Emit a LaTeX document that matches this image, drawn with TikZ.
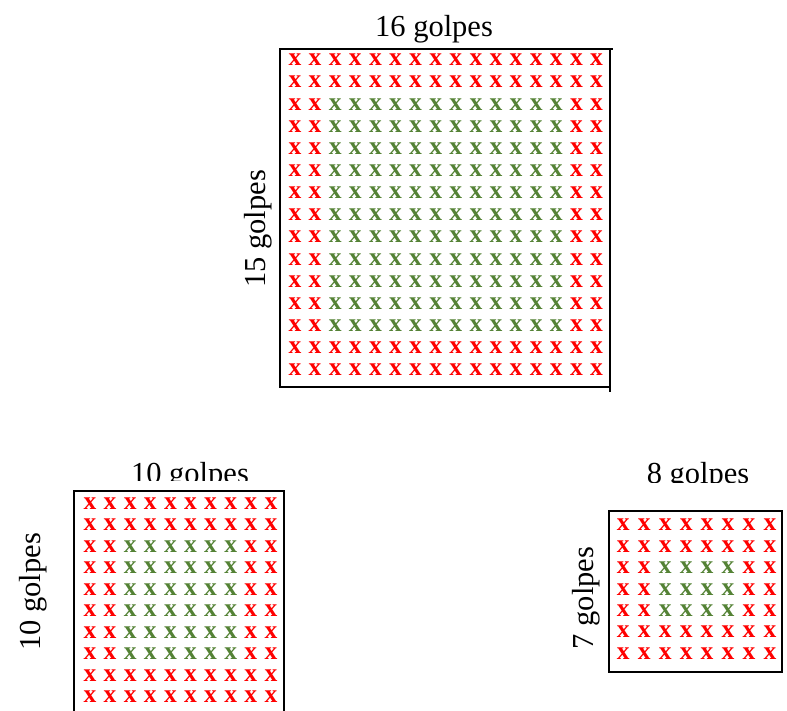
\documentclass[tikz,border=0pt]{standalone}
\usepackage{fontspec}
\setmainfont{Liberation Serif}
\definecolor{xred}{RGB}{255,0,0}
\definecolor{xgreen}{RGB}{84,130,53}
\tikzset{
  xmk/.style={inner sep=0pt, font=\bfseries\fontsize{25.5}{25.5}\selectfont},
  lbl/.style={inner sep=0pt, font=\fontsize{30.5}{30.5}\selectfont, anchor=base},
  frame/.style={line width=2pt, line cap=rect}
}
\begin{document}
\begin{tikzpicture}[x=1pt,y=-1pt]
\useasboundingbox (0,0) rectangle (787,711);
\clip (0,0) rectangle (787,711);

% ---------- big grid 16 x 15 ----------
\foreach \r in {1,...,15}{
  \foreach \c in {1,...,16}{
    \pgfmathtruncatemacro\g{and(and(\r>2,\r<14),and(\c>2,\c<15))}
    \ifnum\g=1 \def\col{xgreen}\else\def\col{xred}\fi
    \node[xmk, text=\col] (A-\r-\c) at ({295+(\c-1)*20.1},{60+(\r-1)*22.14}) {x};
  }
}
\draw[frame] (280,49) -- (612,49);
\draw[frame] (280,49) -- (280,387) -- (610,387);
\draw[frame] (610,49) -- (610,391);
\node[lbl] (topA) at (434,37) {16 golpes};
\node[lbl, rotate=90] (sideA) at (265,229) {15 golpes};

% ---------- grid 10 x 10 ----------
\foreach \r in {1,...,10}{
  \foreach \c in {1,...,10}{
    \pgfmathtruncatemacro\g{and(and(\r>2,\r<9),and(\c>2,\c<9))}
    \ifnum\g=1 \def\col{xgreen}\else\def\col{xred}\fi
    \node[xmk, text=\col] (B-\r-\c) at ({90+(\c-1)*20.1},{503.3+(\r-1)*21.5}) {x};
  }
}
\draw[frame] (74,491) rectangle (284,740);
\begin{scope}
  \clip (0,0) rectangle (787,480);
  \node[lbl] (topB) at (190,483.6) {10 golpes};
\end{scope}
\node[lbl, rotate=90] (sideB) at (40,592) {10 golpes};

% ---------- grid 8 x 7 ----------
\foreach \r in {1,...,7}{
  \foreach \c in {1,...,8}{
    \pgfmathtruncatemacro\g{and(and(\r>2,\r<6),and(\c>2,\c<7))}
    \ifnum\g=1 \def\col{xgreen}\else\def\col{xred}\fi
    \node[xmk, text=\col] (C-\r-\c) at ({623.3+(\c-1)*20.95},{525+(\r-1)*21.4}) {x};
  }
}
\draw[frame] (609.3,511) rectangle (782,671.5);
\begin{scope}
  \clip (0,0) rectangle (787,482);
  \node[lbl] (topC) at (698,483) {8 golpes};
\end{scope}
\node[lbl, rotate=90] (sideC) at (593.5,598) {7 golpes};
\end{tikzpicture}
\end{document}
